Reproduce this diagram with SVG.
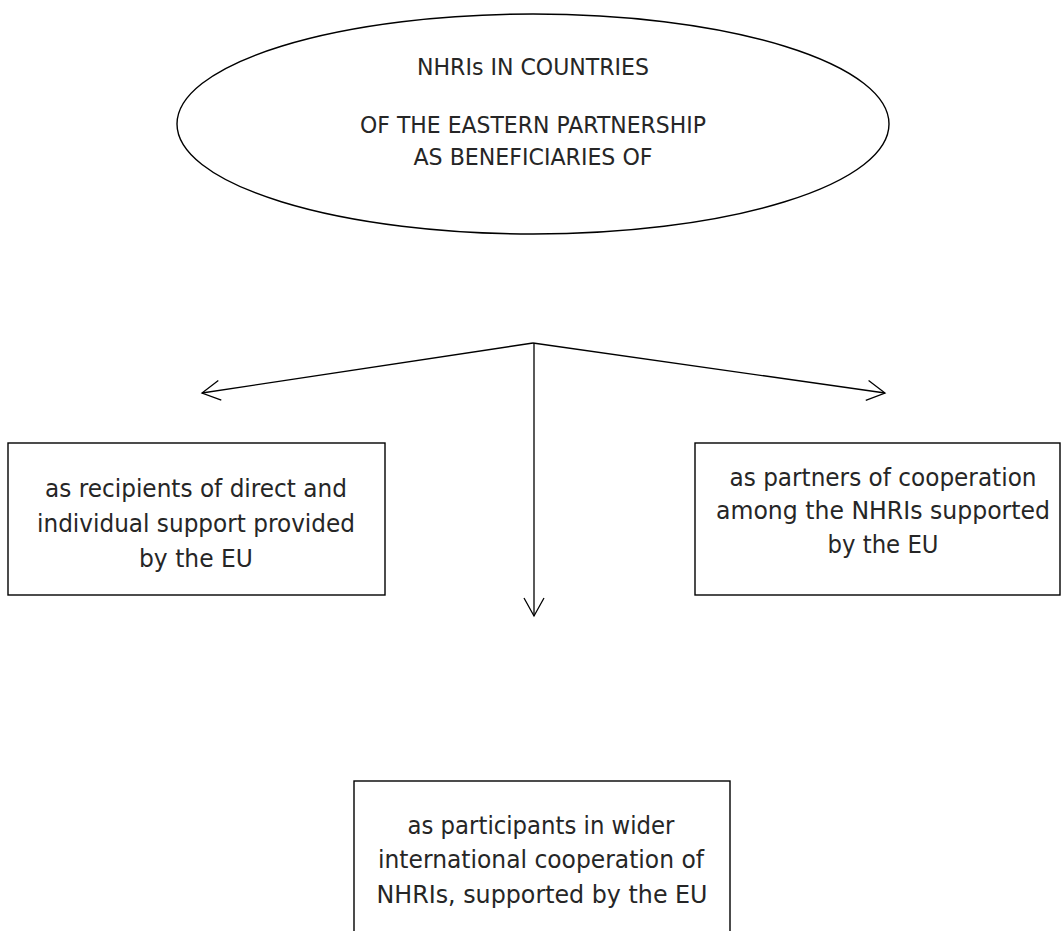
<svg xmlns="http://www.w3.org/2000/svg" width="1062" height="931" viewBox="0 0 1062 931">
<style>
.shape{fill:#ffffff;stroke:#000000;stroke-width:1.4}
.conn{fill:none;stroke:#000000;stroke-width:1.3}
.t{font-family:"DejaVu Sans","Verdana",sans-serif;fill:#262626;text-anchor:middle}
.e{font-size:23px}
.b{font-size:25px}
.r{font-size:24px}
</style>
<defs>
<marker id="arr" markerUnits="userSpaceOnUse" markerWidth="30" markerHeight="30" refX="0" refY="0" viewBox="-22 -15 30 30" orient="auto" overflow="visible">
<path d="M-18,-10 L0,0 L-18,10" fill="none" stroke="#000" stroke-width="1.3"/>
</marker>
</defs>
<rect width="1062" height="931" fill="#ffffff"/>
<g id="connectors">
<line class="conn" x1="533" y1="343" x2="202" y2="393" marker-end="url(#arr)"/>
<line class="conn" x1="533" y1="343" x2="885" y2="393" marker-end="url(#arr)"/>
<line class="conn" x1="534" y1="343" x2="534" y2="616" marker-end="url(#arr)"/>
</g>
<g id="node-main">
<ellipse class="shape" cx="533" cy="124" rx="356" ry="110"/>
<text class="t e" x="533" y="75" textLength="232" lengthAdjust="spacingAndGlyphs">NHRIs IN COUNTRIES</text>
<text class="t e" x="533" y="133" textLength="346" lengthAdjust="spacingAndGlyphs">OF THE EASTERN PARTNERSHIP</text>
<text class="t e" x="533" y="165" textLength="239" lengthAdjust="spacingAndGlyphs">AS BENEFICIARIES OF</text>
</g>
<g id="node-left">
<rect class="shape" x="8" y="443" width="377" height="152"/>
<text class="t b" x="196" y="497" textLength="302" lengthAdjust="spacingAndGlyphs">as recipients of direct and</text>
<text class="t b" x="196" y="532" textLength="318" lengthAdjust="spacingAndGlyphs">individual support provided</text>
<text class="t b" x="196" y="567" textLength="114" lengthAdjust="spacingAndGlyphs">by the EU</text>
</g>
<g id="node-right">
<rect class="shape" x="695" y="443" width="365" height="152"/>
<text class="t r" x="883" y="486" textLength="307" lengthAdjust="spacingAndGlyphs">as partners of cooperation</text>
<text class="t r" x="883" y="519" textLength="334" lengthAdjust="spacingAndGlyphs">among the NHRIs supported</text>
<text class="t r" x="883" y="553" textLength="111" lengthAdjust="spacingAndGlyphs">by the EU</text>
</g>
<g id="node-bottom">
<rect class="shape" x="354" y="781" width="376" height="170"/>
<text class="t b" x="541" y="834" textLength="267" lengthAdjust="spacingAndGlyphs">as participants in wider</text>
<text class="t b" x="541" y="868" textLength="326" lengthAdjust="spacingAndGlyphs">international cooperation of</text>
<text class="t b" x="542" y="903" textLength="331" lengthAdjust="spacingAndGlyphs">NHRIs, supported by the EU</text>
</g>
</svg>
